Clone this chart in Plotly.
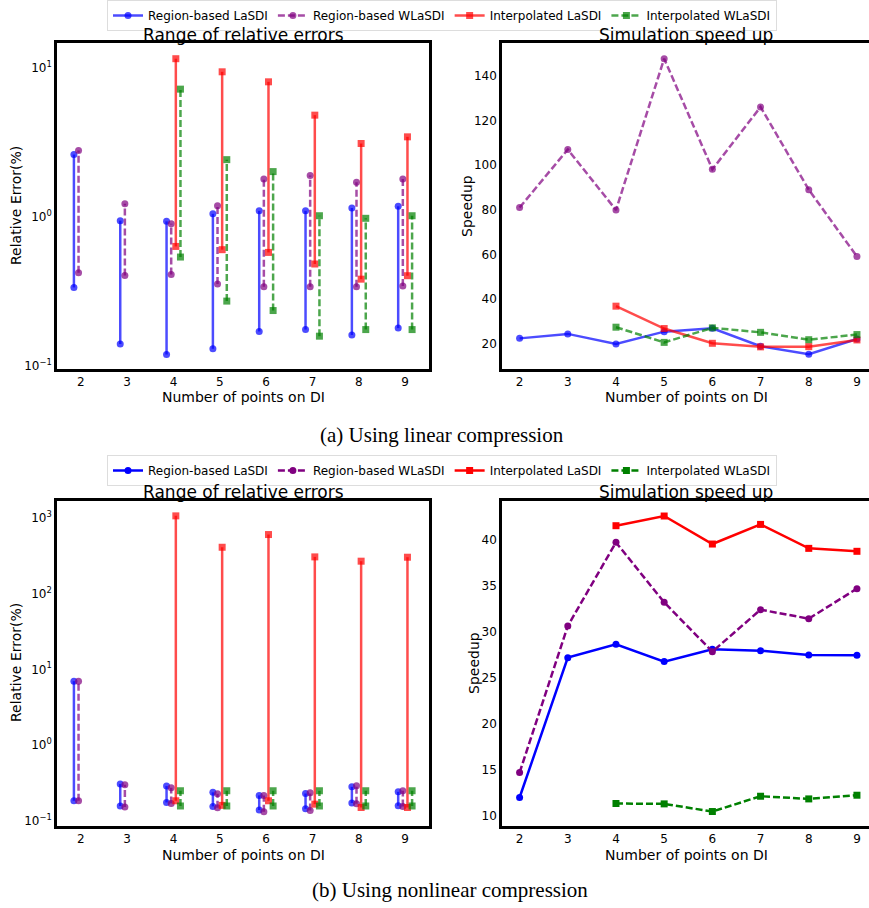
import plotly.graph_objects as go

# ---------------- data ----------------
x_points = [2, 3, 4, 5, 6, 7, 8, 9]
x_interp = [4, 5, 6, 7, 8, 9]
series_names = ["Region-based LaSDI", "Region-based WLaSDI", "Interpolated LaSDI", "Interpolated WLaSDI"]

# (a) linear compression: min / max relative error (%)
lin_rb_lasdi_min = [0.336, 0.140, 0.119, 0.130, 0.170, 0.175, 0.161, 0.179]
lin_rb_lasdi_max = [2.63, 0.945, 0.935, 1.05, 1.10, 1.10, 1.15, 1.18]
lin_rb_wlasdi_min = [0.422, 0.405, 0.411, 0.354, 0.340, 0.340, 0.340, 0.343]
lin_rb_wlasdi_max = [2.80, 1.23, 0.90, 1.19, 1.80, 1.90, 1.71, 1.80]
lin_int_lasdi_min = [0.634, 0.603, 0.578, 0.483, 0.382, 0.403]
lin_int_lasdi_max = [11.6, 9.47, 8.11, 4.84, 3.12, 3.46]
lin_int_wlasdi_min = [0.538, 0.272, 0.235, 0.158, 0.175, 0.175]
lin_int_wlasdi_max = [7.24, 2.43, 2.02, 1.02, 0.98, 1.02]

# (a) linear compression: speedup
lin_speed_rb_lasdi = [22.5, 24.5, 20.0, 25.5, 27.0, 19.0, 15.4, 22.2]
lin_speed_rb_wlasdi = [81.0, 107.0, 79.9, 147.6, 98.1, 126.0, 89.0, 59.1]
lin_speed_int_lasdi = [36.9, 26.9, 20.3, 18.7, 18.8, 21.8]
lin_speed_int_wlasdi = [27.5, 20.7, 27.2, 25.2, 21.9, 24.2]

# (b) nonlinear compression: min / max relative error (%)
nl_rb_lasdi_min = [0.185, 0.158, 0.176, 0.156, 0.140, 0.145, 0.173, 0.159]
nl_rb_lasdi_max = [6.98, 0.307, 0.289, 0.239, 0.218, 0.231, 0.283, 0.243]
nl_rb_wlasdi_min = [0.185, 0.153, 0.171, 0.150, 0.133, 0.138, 0.169, 0.156]
nl_rb_wlasdi_max = [6.95, 0.301, 0.275, 0.229, 0.218, 0.236, 0.292, 0.251]
nl_int_lasdi_min = [0.185, 0.161, 0.185, 0.167, 0.151, 0.151]
nl_int_lasdi_max = [1052, 406, 597, 303, 266, 300]
nl_int_wlasdi_min = [0.158, 0.158, 0.158, 0.158, 0.158, 0.158]
nl_int_wlasdi_max = [0.251, 0.251, 0.251, 0.251, 0.251, 0.251]

# (b) nonlinear compression: speedup
nl_speed_rb_lasdi = [11.99, 27.17, 28.62, 26.74, 28.08, 27.93, 27.46, 27.43]
nl_speed_rb_wlasdi = [14.70, 30.61, 39.68, 33.17, 27.82, 32.38, 31.40, 34.66]
nl_speed_int_lasdi = [41.49, 42.54, 39.50, 41.63, 39.03, 38.71]
nl_speed_int_wlasdi = [11.34, 11.30, 10.47, 12.13, 11.84, 12.24]

x_tick_labels = ["2", "3", "4", "5", "6", "7", "8", "9"]

# ---------------- styles ----------------
W, H = 869, 908
FONT = "DejaVu Sans"
offsets = [-0.15, -0.05, 0.05, 0.15]
base_rgb = [(0, 0, 255), (128, 0, 128), (255, 0, 0), (0, 128, 0)]
dashes = ["solid", "7px,3px", "solid", "7px,3px"]
symbols = ["circle", "circle", "square", "square"]


def col(i, a):
    r, g, b = base_rgb[i]
    return f"rgba({r},{g},{b},{a})"


def px_x(p):
    return p / W


def px_y(p):
    return 1 - p / H


def range_xy(xs, lo, hi, off):
    X, Y = [], []
    for x, a, b in zip(xs, lo, hi):
        X += [x + off, x + off, None]
        Y += [a, b, None]
    return X, Y


fig = go.Figure()


def add_range(i, xs, lo, hi, xa, ya, legend, alpha, show):
    X, Y = range_xy(xs, lo, hi, offsets[i])
    fig.add_trace(go.Scatter(
        x=X, y=Y, mode="lines+markers", name=series_names[i],
        line=dict(color=col(i, alpha), width=2.5, dash=dashes[i]),
        marker=dict(symbol=symbols[i], size=7, color=col(i, alpha)),
        xaxis=xa, yaxis=ya, legend=legend, showlegend=show,
        connectgaps=False,
    ))


def add_speed(i, xs, ys, xa, ya, legend, alpha, show):
    fig.add_trace(go.Scatter(
        x=xs, y=ys, mode="lines+markers", name=series_names[i],
        line=dict(color=col(i, alpha), width=2.5, dash=dashes[i]),
        marker=dict(symbol=symbols[i], size=7, color=col(i, alpha)),
        xaxis=xa, yaxis=ya, legend=legend, showlegend=show,
    ))


# top row (linear)
lin_ranges = [
    (x_points, lin_rb_lasdi_min, lin_rb_lasdi_max),
    (x_points, lin_rb_wlasdi_min, lin_rb_wlasdi_max),
    (x_interp, lin_int_lasdi_min, lin_int_lasdi_max),
    (x_interp, lin_int_wlasdi_min, lin_int_wlasdi_max),
]
for i, (xs, lo, hi) in enumerate(lin_ranges):
    add_range(i, xs, lo, hi, "x", "y", "legend", 0.7, True)
lin_speeds = [
    (x_points, lin_speed_rb_lasdi),
    (x_points, lin_speed_rb_wlasdi),
    (x_interp, lin_speed_int_lasdi),
    (x_interp, lin_speed_int_wlasdi),
]
for i, (xs, ys) in enumerate(lin_speeds):
    add_speed(i, xs, ys, "x2", "y2", "legend", 0.7, False)

# bottom row (nonlinear)
nl_ranges = [
    (x_points, nl_rb_lasdi_min, nl_rb_lasdi_max),
    (x_points, nl_rb_wlasdi_min, nl_rb_wlasdi_max),
    (x_interp, nl_int_lasdi_min, nl_int_lasdi_max),
    (x_interp, nl_int_wlasdi_min, nl_int_wlasdi_max),
]
for i, (xs, lo, hi) in enumerate(nl_ranges):
    add_range(i, xs, lo, hi, "x3", "y3", "legend2", 0.7, False)
nl_speeds = [
    (x_points, nl_speed_rb_lasdi),
    (x_points, nl_speed_rb_wlasdi),
    (x_interp, nl_speed_int_lasdi),
    (x_interp, nl_speed_int_wlasdi),
]
for i, (xs, ys) in enumerate(nl_speeds):
    add_speed(i, xs, ys, "x4", "y4", "legend2", 1.0, True)

# ---------------- axes ----------------
left_dom = [px_x(57), px_x(429)]
right_dom = [px_x(502), 1.0]
top_dom = [px_y(369), px_y(43)]
bot_dom = [px_y(826), px_y(501)]

tickfont = dict(family=FONT, size=12, color="black")


def xax(dom, anchor, rng, mirror):
    return dict(domain=dom, anchor=anchor, range=rng, tickvals=x_points, ticktext=x_tick_labels,
                showline=True, linecolor="black", linewidth=2.5, mirror=mirror,
                showgrid=False, zeroline=False, ticks="", tickfont=tickfont, automargin=False)


def yax(dom, anchor, rng, mirror, **kw):
    d = dict(domain=dom, anchor=anchor, range=rng,
             showline=True, linecolor="black", linewidth=2.5, mirror=mirror,
             showgrid=False, zeroline=False, ticks="", tickfont=tickfont, automargin=False)
    d.update(kw)
    return d


log_vals_a = [0.1, 1, 10]
log_text_a = ["10<sup>−1</sup>", "10<sup>0</sup>", "10<sup>1</sup>"]
log_vals_b = [0.1, 1, 10, 100, 1000]
log_text_b = ["10<sup>−1</sup>", "10<sup>0</sup>", "10<sup>1</sup>", "10<sup>2</sup>", "10<sup>3</sup>"]

legend_style = dict(orientation="h", x=px_x(442), xanchor="center", yanchor="top",
                    bordercolor="#dddddd", borderwidth=1, bgcolor="white",
                    font=dict(family=FONT, size=12))

fig.update_layout(
    width=W, height=H,
    margin=dict(l=0, r=0, t=0, b=0),
    paper_bgcolor="white", plot_bgcolor="white",
    font=dict(family=FONT, color="black"),
    xaxis=xax(left_dom, "y", [1.485, 9.515], True),
    yaxis=yax(top_dom, "x", [-1.022, 1.17], True, type="log", tickvals=log_vals_a, ticktext=log_text_a),
    xaxis2=xax(right_dom, "y2", [1.635, 9.25], True),
    yaxis2=yax(top_dom, "x2", [8.8, 154.6], False, tickvals=[20, 40, 60, 80, 100, 120, 140]),
    xaxis3=xax(left_dom, "y3", [1.485, 9.515], True),
    yaxis3=yax(bot_dom, "x3", [-1.065, 3.218], True, type="log", tickvals=log_vals_b, ticktext=log_text_b),
    xaxis4=xax(right_dom, "y4", [1.635, 9.25], True),
    yaxis4=yax(bot_dom, "x4", [8.9, 44.17], False, tickvals=[10, 15, 20, 25, 30, 35, 40]),
    legend=dict(legend_style, y=px_y(0)),
    legend2=dict(legend_style, y=px_y(455)),
)

# ---------------- text annotations ----------------
ann = []


def text(s, x, y, size, angle=0, family=FONT):
    ann.append(dict(text=s, x=px_x(x), y=px_y(y), xref="paper", yref="paper",
                    xanchor="center", yanchor="middle", showarrow=False, textangle=angle,
                    font=dict(family=family, size=size, color="black")))


text("Range of relative errors", 243, 35, 17)
text("Simulation speed up", 686, 35, 17)
text("Range of relative errors", 243, 492, 17)
text("Simulation speed up", 686, 492, 17)
text("Relative Error(%)", 16, 206, 14, -90)
text("Speedup", 467, 206, 14, -90)
text("Relative Error(%)", 16, 663, 14, -90)
text("Speedup", 474, 663, 14, -90)
text("Number of points on DI", 243, 397, 14)
text("Number of points on DI", 686, 397, 14)
text("Number of points on DI", 243, 855, 14)
text("Number of points on DI", 686, 855, 14)
text("(a) Using linear compression", 442, 435, 21, 0, "Liberation Serif")
text("(b) Using nonlinear compression", 450, 890, 21, 0, "Liberation Serif")

fig.update_layout(annotations=ann)

fig.write_html("out.html", config={"displayModeBar": False},
               post_script="document.body.style.margin='0';document.body.style.overflow='hidden';")
